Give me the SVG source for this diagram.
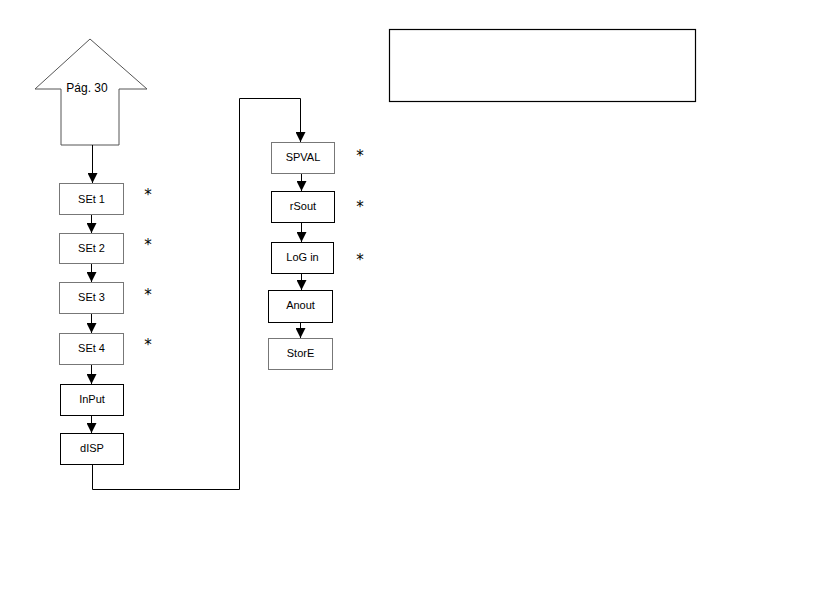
<svg xmlns="http://www.w3.org/2000/svg" width="840" height="594" viewBox="0 0 840 594">
<style>
.box{fill:#fff;stroke:#000;stroke-width:1}
.gbox{fill:#fff;stroke:#777;stroke-width:1}
.lbl{font-family:"Liberation Sans",Arial,sans-serif;font-size:11px;fill:#000;text-anchor:middle}
.ast{font-family:"DejaVu Sans",Verdana,sans-serif;font-size:15px;fill:#000;text-anchor:middle}
.ln{fill:none;stroke:#000;stroke-width:1}
</style>
<defs>
<marker id="ah" viewBox="0 0 10 10" refX="10" refY="5" markerWidth="10" markerHeight="10" markerUnits="userSpaceOnUse" orient="auto">
<path d="M0,0 L10,5 L0,10 Z" fill="#000"/>
</marker>
</defs>
<rect x="0" y="0" width="840" height="594" fill="#fff"/>
<g id="goto-page">
<path d="M90,39 L147,89 L119,89 L119,145 L61,145 L61,89 L35,89 Z" fill="#fff" stroke="#555" stroke-width="1"/>
<text x="87" y="92" class="lbl" style="font-size:12px">Pág. 30</text>
</g>
<g id="note-box">
<rect x="389.5" y="29.5" width="306" height="72" fill="#fff" stroke="#000" stroke-width="1.2"/>
</g>
<g id="set1"><rect class="gbox" x="59.5" y="183.5" width="64" height="31"/><text class="lbl" x="91.5" y="203">SEt 1</text><text class="ast" x="148" y="200">*</text></g>
<g id="set2"><rect class="gbox" x="59.5" y="233.5" width="64" height="30"/><text class="lbl" x="91.5" y="252">SEt 2</text><text class="ast" x="148" y="250">*</text></g>
<g id="set3"><rect class="gbox" x="59.5" y="282.5" width="64" height="31"/><text class="lbl" x="91.5" y="301">SEt 3</text><text class="ast" x="148" y="300">*</text></g>
<g id="set4"><rect class="gbox" x="59.5" y="333.5" width="64" height="31"/><text class="lbl" x="91.5" y="352">SEt 4</text><text class="ast" x="148" y="350">*</text></g>
<g id="input"><rect class="box" x="60.5" y="384.5" width="63" height="31"/><text class="lbl" x="92" y="403">InPut</text></g>
<g id="disp"><rect class="box" x="60.5" y="433.5" width="63" height="31"/><text class="lbl" x="92" y="452">dISP</text></g>
<g id="spval"><rect class="gbox" x="271.5" y="142.5" width="63" height="31"/><text class="lbl" x="303" y="161">SPVAL</text><text class="ast" x="360" y="161">*</text></g>
<g id="rsout"><rect class="box" x="271.5" y="191.5" width="63" height="31"/><text class="lbl" x="303" y="210">rSout</text><text class="ast" x="360" y="212">*</text></g>
<g id="login"><rect class="box" x="271.5" y="242.5" width="62" height="31"/><text class="lbl" x="302.5" y="261">LoG in</text><text class="ast" x="360" y="265">*</text></g>
<g id="anout"><rect class="box" x="268.5" y="290.5" width="64" height="32"/><text class="lbl" x="300.5" y="309">Anout</text></g>
<g id="store"><rect class="gbox" x="268.5" y="338.5" width="64" height="31"/><text class="lbl" x="300.5" y="357">StorE</text></g>
<g id="connectors">
<line class="ln" x1="92.5" y1="145" x2="92.5" y2="183" marker-end="url(#ah)"/>
<line class="ln" x1="91.5" y1="215" x2="91.5" y2="233" marker-end="url(#ah)"/>
<line class="ln" x1="91.5" y1="264" x2="91.5" y2="282" marker-end="url(#ah)"/>
<line class="ln" x1="91.5" y1="314" x2="91.5" y2="333" marker-end="url(#ah)"/>
<line class="ln" x1="91.5" y1="365" x2="91.5" y2="384" marker-end="url(#ah)"/>
<line class="ln" x1="91.5" y1="416" x2="91.5" y2="433" marker-end="url(#ah)"/>
<polyline class="ln" points="92.5,465 92.5,489.5 239.5,489.5 239.5,98.5 300.5,98.5 300.5,142" marker-end="url(#ah)"/>
<line class="ln" x1="301.5" y1="174" x2="301.5" y2="191" marker-end="url(#ah)"/>
<line class="ln" x1="301.5" y1="223" x2="301.5" y2="242" marker-end="url(#ah)"/>
<line class="ln" x1="301.5" y1="274" x2="301.5" y2="290" marker-end="url(#ah)"/>
<line class="ln" x1="300.5" y1="323" x2="300.5" y2="338" marker-end="url(#ah)"/>
</g>
</svg>
